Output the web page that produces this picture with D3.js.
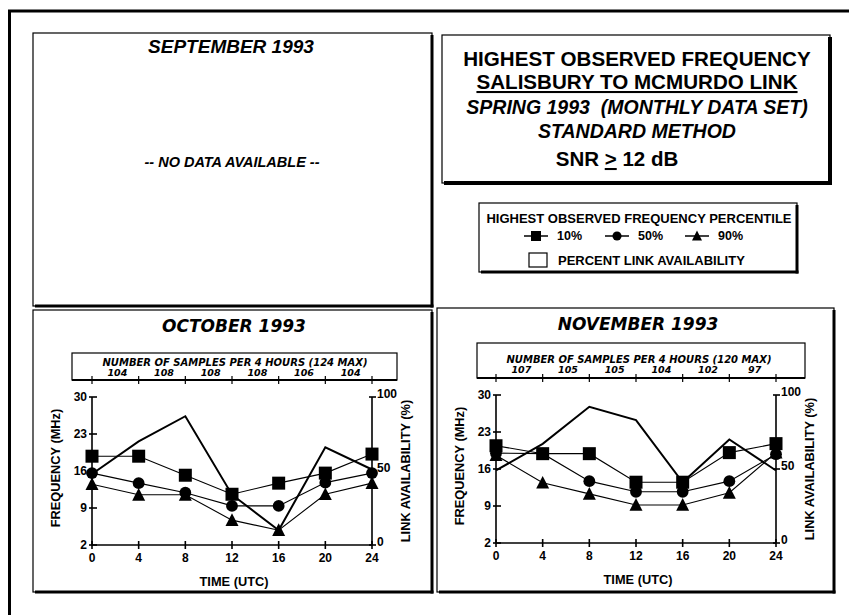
<!DOCTYPE html>
<html>
<head>
<meta charset="utf-8">
<script src="https://cdn.jsdelivr.net/npm/d3@7"></script>
<style>
  html, body { margin: 0; padding: 0; background: #fff; }
  svg { display: block; }
  text { font-family: "Liberation Sans", Arial, sans-serif; font-weight: bold; fill: #000; }
  text.wide { font-family: "DejaVu Sans", sans-serif; }
</style>
</head>
<body>
<svg id="chart" width="849" height="615"></svg>
<script>
// ── Data ─────────────────────────────────────────────
const hours       = [0, 4, 8, 12, 16, 20, 24];
const freqTicks   = [2, 9, 16, 23, 30];
const availTicks  = [0, 50, 100];

const octP10      = [18.8, 18.8, 15.2, 11.6, 13.7, 15.6, 19.2];
const octP50      = [15.6, 13.7, 11.9, 9.4, 9.4, 13.8, 15.6];
const octP90      = [13.5, 11.5, 11.5, 6.7, 4.8, 11.6, 13.7];
const octAvail    = [48, 70, 87, 34, 10, 66, 51];
const octSamples  = [104, 108, 108, 108, 106, 104];

const novP10      = [20.4, 18.9, 18.9, 13.5, 13.5, 19.1, 20.8];
const novP50      = [19.0, 18.9, 13.7, 11.7, 11.7, 13.7, 18.8];
const novP90      = [18.6, 13.4, 11.3, 9.2, 9.2, 11.5, 19.1];
const novAvail    = [49, 67, 92, 83, 41, 70, 49];
const novSamples  = [107, 105, 105, 104, 102, 97];

const svg = d3.select('#chart');

// ── Helpers ──────────────────────────────────────────
function shadowBox(g, x, y, w, h, sw) {
  g.append('rect').attr('x', x).attr('y', y).attr('width', w).attr('height', h)
    .attr('fill', '#fff').attr('stroke', '#000').attr('stroke-width', 1.2);
  g.append('line').attr('x1', x + w).attr('x2', x + w).attr('y1', y + 2).attr('y2', y + h + sw / 2)
    .attr('stroke', '#000').attr('stroke-width', sw);
  g.append('line').attr('x1', x + 2).attr('x2', x + w + sw / 2).attr('y1', y + h).attr('y2', y + h)
    .attr('stroke', '#000').attr('stroke-width', sw);
}

function marker(g, kind, cx, cy, s) {
  if (kind === 'square') {
    g.append('rect').attr('x', cx - s / 2).attr('y', cy - s / 2)
      .attr('width', s).attr('height', s).attr('fill', '#000');
  } else if (kind === 'circle') {
    g.append('circle').attr('cx', cx).attr('cy', cy).attr('r', s / 2.2).attr('fill', '#000');
  } else {
    const h = s * 0.9;
    g.append('path')
      .attr('d', `M${cx},${cy - h / 2 - 1}L${cx + s / 2},${cy + h / 2}L${cx - s / 2},${cy + h / 2}Z`)
      .attr('fill', '#000');
  }
}

// ── Page frame ───────────────────────────────────────
svg.append('line').attr('x1', 8).attr('x2', 849).attr('y1', 11).attr('y2', 11)
  .attr('stroke', '#000').attr('stroke-width', 3);
svg.append('line').attr('x1', 9.5).attr('x2', 9.5).attr('y1', 10).attr('y2', 615)
  .attr('stroke', '#000').attr('stroke-width', 3);

// ── September (no data) ──────────────────────────────
const sep = svg.append('g');
shadowBox(sep, 33, 33, 399, 273, 3);
sep.append('text').attr('x', 231).attr('y', 53).attr('text-anchor', 'middle')
  .attr('font-size', 19).attr('font-style', 'italic').text('SEPTEMBER 1993');
sep.append('text').attr('x', 232).attr('y', 167).attr('text-anchor', 'middle')
  .attr('font-size', 14.5).attr('font-style', 'italic').text('-- NO DATA AVAILABLE --');

// ── Title box ────────────────────────────────────────
const tb = svg.append('g');
shadowBox(tb, 442, 35, 388, 148, 4);
tb.append('text').attr('x', 637).attr('y', 66).attr('text-anchor', 'middle')
  .attr('font-size', 20.6).text('HIGHEST OBSERVED FREQUENCY');
tb.append('text').attr('x', 637).attr('y', 89).attr('text-anchor', 'middle')
  .attr('font-size', 20.6).attr('text-decoration', 'underline').text('SALISBURY TO MCMURDO LINK');
tb.append('text').attr('x', 637).attr('y', 114).attr('text-anchor', 'middle')
  .attr('font-size', 19.5).attr('font-style', 'italic').attr('xml:space', 'preserve')
  .text('SPRING 1993  (MONTHLY DATA SET)');
tb.append('text').attr('x', 637).attr('y', 138).attr('text-anchor', 'middle')
  .attr('font-size', 19.5).attr('font-style', 'italic').text('STANDARD METHOD');
const snr = tb.append('text').attr('x', 617).attr('y', 166).attr('text-anchor', 'middle')
  .attr('font-size', 20.5);
snr.append('tspan').text('SNR ');
snr.append('tspan').attr('text-decoration', 'underline').text('>');
snr.append('tspan').text(' 12 dB');

// ── Legend box ───────────────────────────────────────
const lg = svg.append('g');
shadowBox(lg, 479, 203, 318, 69, 3);
lg.append('text').attr('x', 639).attr('y', 223).attr('text-anchor', 'middle')
  .attr('font-size', 13).text('HIGHEST OBSERVED FREQUENCY PERCENTILE');
const legendItems = [
  { kind: 'square', label: '10%', x: 536 },
  { kind: 'circle', label: '50%', x: 617 },
  { kind: 'triangle', label: '90%', x: 697 },
];
legendItems.forEach(d => {
  lg.append('line').attr('x1', d.x - 12).attr('x2', d.x + 12).attr('y1', 236).attr('y2', 236)
    .attr('stroke', '#000').attr('stroke-width', 1.5);
  marker(lg, d.kind, d.x, 236, 10);
  lg.append('text').attr('x', d.x + 21).attr('y', 240).attr('font-size', 12.5).text(d.label);
});
lg.append('rect').attr('x', 529).attr('y', 253).attr('width', 18).attr('height', 14)
  .attr('fill', '#fff').attr('stroke', '#000').attr('stroke-width', 1.2);
lg.append('text').attr('x', 558).attr('y', 265).attr('font-size', 13).text('PERCENT LINK AVAILABILITY');

// ── Monthly panels ───────────────────────────────────
function drawPanel(cfg) {
  const g = svg.append('g').attr('transform', `translate(${cfg.left},${cfg.top})`);
  shadowBox(g, 0, 0, cfg.w, cfg.h, 3);

  const x0 = 59, pw = 280, yT = 87, yB = 235;
  const x  = d3.scaleLinear().domain([0, 24]).range([x0, x0 + pw]);
  const yF = d3.scaleLinear().domain([2, 30]).range([yB, yT]);
  const yA = d3.scaleLinear().domain([0, 100]).range([yB, yT]);

  g.append('text').attr('class', 'wide').attr('x', 201).attr('y', 22).attr('text-anchor', 'middle')
    .attr('font-size', 17).attr('font-style', 'italic').text(cfg.title);

  // samples box
  const sb = cfg.sampleBox;
  g.append('rect').attr('x', sb.x).attr('y', sb.y).attr('width', sb.w).attr('height', sb.h)
    .attr('fill', 'none').attr('stroke', '#000').attr('stroke-width', 1.2);
  g.append('line').attr('x1', sb.x).attr('x2', sb.x + sb.w).attr('y1', sb.y + sb.h).attr('y2', sb.y + sb.h)
    .attr('stroke', '#000').attr('stroke-width', 2);
  g.append('text').attr('class', 'wide').attr('x', 202).attr('y', sb.hdrY).attr('text-anchor', 'middle')
    .attr('font-size', 10).attr('font-style', 'italic').text(cfg.header);
  g.selectAll('.stick').data(hours).join('line')
    .attr('x1', d => x(d)).attr('x2', d => x(d))
    .attr('y1', sb.y + sb.h - 4).attr('y2', sb.y + sb.h + 4)
    .attr('stroke', '#000').attr('stroke-width', 1.2);
  g.selectAll('.snum').data(cfg.samples).join('text')
    .attr('class', 'wide')
    .attr('x', (d, i) => (x(hours[i]) + x(hours[i + 1])) / 2 + 2)
    .attr('y', sb.numY).attr('text-anchor', 'middle')
    .attr('font-size', 9.5).attr('font-style', 'italic').text(d => d);

  // axes
  const axG = g.append('g').attr('stroke', '#000').attr('stroke-width', 1.6);
  axG.append('line').attr('x1', x0).attr('x2', x0).attr('y1', yT).attr('y2', yB);
  axG.append('line').attr('x1', x0 + pw).attr('x2', x0 + pw).attr('y1', yT).attr('y2', yB);
  axG.append('line').attr('x1', x0).attr('x2', x0 + pw).attr('y1', yB).attr('y2', yB);
  axG.selectAll('.ft').data(freqTicks).join('line')
    .attr('x1', x0 - 3).attr('x2', x0 + 5).attr('y1', d => yF(d)).attr('y2', d => yF(d));
  axG.selectAll('.at').data(availTicks).join('line')
    .attr('x1', x0 + pw - 3).attr('x2', x0 + pw + 4).attr('y1', d => yA(d)).attr('y2', d => yA(d));
  axG.selectAll('.xt').data(hours).join('line')
    .attr('x1', d => x(d)).attr('x2', d => x(d)).attr('y1', yB - 4).attr('y2', yB + 4);

  g.selectAll('.fl').data(freqTicks).join('text')
    .attr('x', x0 - 5).attr('y', d => yF(d) + 4).attr('text-anchor', 'end')
    .attr('font-size', 12).text(d => d);
  g.selectAll('.al').data(availTicks).join('text')
    .attr('x', x0 + pw + 5).attr('y', d => yA(d) + 1).attr('font-size', 12).text(d => d);
  g.selectAll('.xl').data(hours).join('text')
    .attr('x', d => x(d)).attr('y', 252).attr('text-anchor', 'middle')
    .attr('font-size', 12).text(d => d);

  g.append('text').attr('x', 201).attr('y', 276).attr('text-anchor', 'middle')
    .attr('font-size', 12.8).text('TIME (UTC)');
  g.append('text').attr('transform', 'translate(27,158) rotate(-90)').attr('text-anchor', 'middle')
    .attr('font-size', 12.8).text('FREQUENCY (MHz)');
  g.append('text').attr('transform', `translate(${x0 + pw + 38},161) rotate(-90)`).attr('text-anchor', 'middle')
    .attr('font-size', 12.8).text('LINK AVAILABILITY (%)');

  // link availability line
  const availLine = d3.line().x((d, i) => x(hours[i])).y(d => yA(d));
  g.append('path').attr('d', availLine(cfg.avail))
    .attr('fill', 'none').attr('stroke', '#000').attr('stroke-width', 2);

  // percentile series
  const fLine = d3.line().x((d, i) => x(hours[i])).y(d => yF(d));
  const series = [
    { vals: cfg.p90, kind: 'triangle' },
    { vals: cfg.p50, kind: 'circle' },
    { vals: cfg.p10, kind: 'square' },
  ];
  series.forEach(s => {
    g.append('path').attr('d', fLine(s.vals))
      .attr('fill', 'none').attr('stroke', '#000').attr('stroke-width', 1.1);
  });
  series.forEach(s => {
    s.vals.forEach((v, i) => marker(g, s.kind, x(hours[i]), yF(v), 13));
  });
}

drawPanel({
  left: 33, top: 310, w: 399, h: 282,
  title: 'OCTOBER 1993',
  header: 'NUMBER OF SAMPLES PER 4 HOURS (124 MAX)',
  sampleBox: { x: 39, y: 43, w: 325, h: 27, hdrY: 56, numY: 65.5 },
  samples: octSamples, p10: octP10, p50: octP50, p90: octP90, avail: octAvail,
});

drawPanel({
  left: 437, top: 308, w: 397, h: 284,
  title: 'NOVEMBER 1993',
  header: 'NUMBER OF SAMPLES PER 4 HOURS (120 MAX)',
  sampleBox: { x: 40, y: 35, w: 328, h: 35, hdrY: 55, numY: 64.5 },
  samples: novSamples, p10: novP10, p50: novP50, p90: novP90, avail: novAvail,
});
</script>
</body>
</html>
